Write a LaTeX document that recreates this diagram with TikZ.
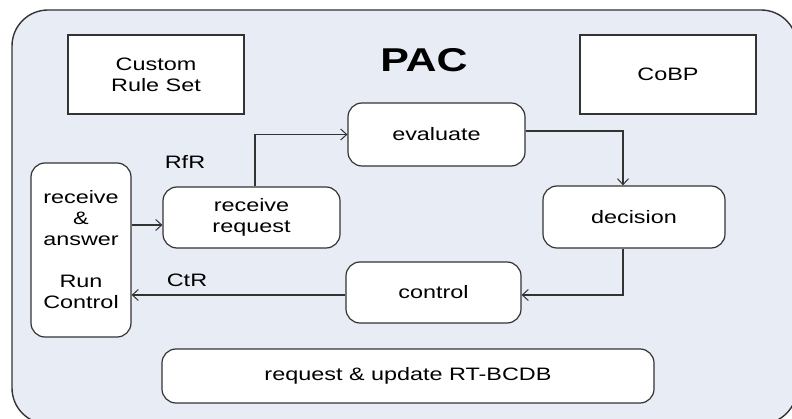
\documentclass[tikz,border=0pt]{standalone}
\usepackage{fontspec}
\setmainfont[FakeStretch=1.3]{Liberation Sans}
\usetikzlibrary{arrows.meta}
\definecolor{panel}{HTML}{E8ECF5}
\definecolor{edge}{HTML}{333333}
\begin{document}
\begin{tikzpicture}[x=1pt,y=-1pt,
  lbl/.style={font=\fontsize{18}{21}\selectfont, align=center, text=black},
  plainbox/.style={draw=edge, line width=1.2pt, fill=white, lbl, inner sep=0pt},
  roundbox/.style={plainbox, rounded corners=14pt},
  flow/.style={draw=edge, line width=1.1pt, -{Straight Barb[length=6pt,width=11pt,line width=1pt]}},
  tag/.style={lbl, anchor=center}]
  \useasboundingbox (0,0) rectangle (792,419);
  \begin{scope}
    \clip (0,0) rectangle (792,419);
    \draw[edge, line width=1.4pt, fill=panel, rounded corners=36pt] (12,10) rectangle (797,424);
  \end{scope}

  % title
  \node[font=\bfseries\fontsize{33}{40}\selectfont] (pac) at (424,60) {PAC};

  % square boxes
  \node[plainbox, minimum width=176pt, minimum height=79pt] (crs) at (156,74.5) {Custom\\Rule Set};
  \node[plainbox, minimum width=176pt, minimum height=79pt] (cobp) at (668,74.5) {CoBP};

  % rounded process boxes
  \node[roundbox, minimum width=100pt, minimum height=174pt] (ra) at (81,250)
    {receive\\\&\\answer\\[21pt]Run\\Control};
  \node[roundbox, minimum width=177pt, minimum height=61pt] (rr) at (251.5,217.5) {receive\\request};
  \node[roundbox, minimum width=177pt, minimum height=63pt] (ev) at (436.5,134.5) {evaluate};
  \node[roundbox, minimum width=182pt, minimum height=62pt] (de) at (634,217) {decision};
  \node[roundbox, minimum width=175pt, minimum height=61pt] (co) at (433.5,292.5) {control};
  \node[roundbox, minimum width=492pt, minimum height=54pt] (db) at (408,376) {request \& update RT-BCDB};

  % connectors
  \coordinate (rrtop) at (255,0);
  \coordinate (evright) at (0,131);
  \coordinate (dex) at (623,0);
  \coordinate (loopy) at (0,295);
  \coordinate (ray) at (0,225);
  \draw[flow] (rr.north -| rrtop) |- (ev.west);
  \draw[flow] (ev.east |- evright) -| (de.north -| dex);
  \draw[flow] (de.south -| dex) |- (co.east |- loopy);
  \draw[flow] (co.west |- loopy) -- (ra.east |- loopy);
  \draw[flow] (ra.east |- ray) -- (rr.west |- ray);

  % connector labels
  \node[tag] (rfr) at (185,162) {RfR};
  \node[tag] (ctr) at (187,280) {CtR};
\end{tikzpicture}
\end{document}
